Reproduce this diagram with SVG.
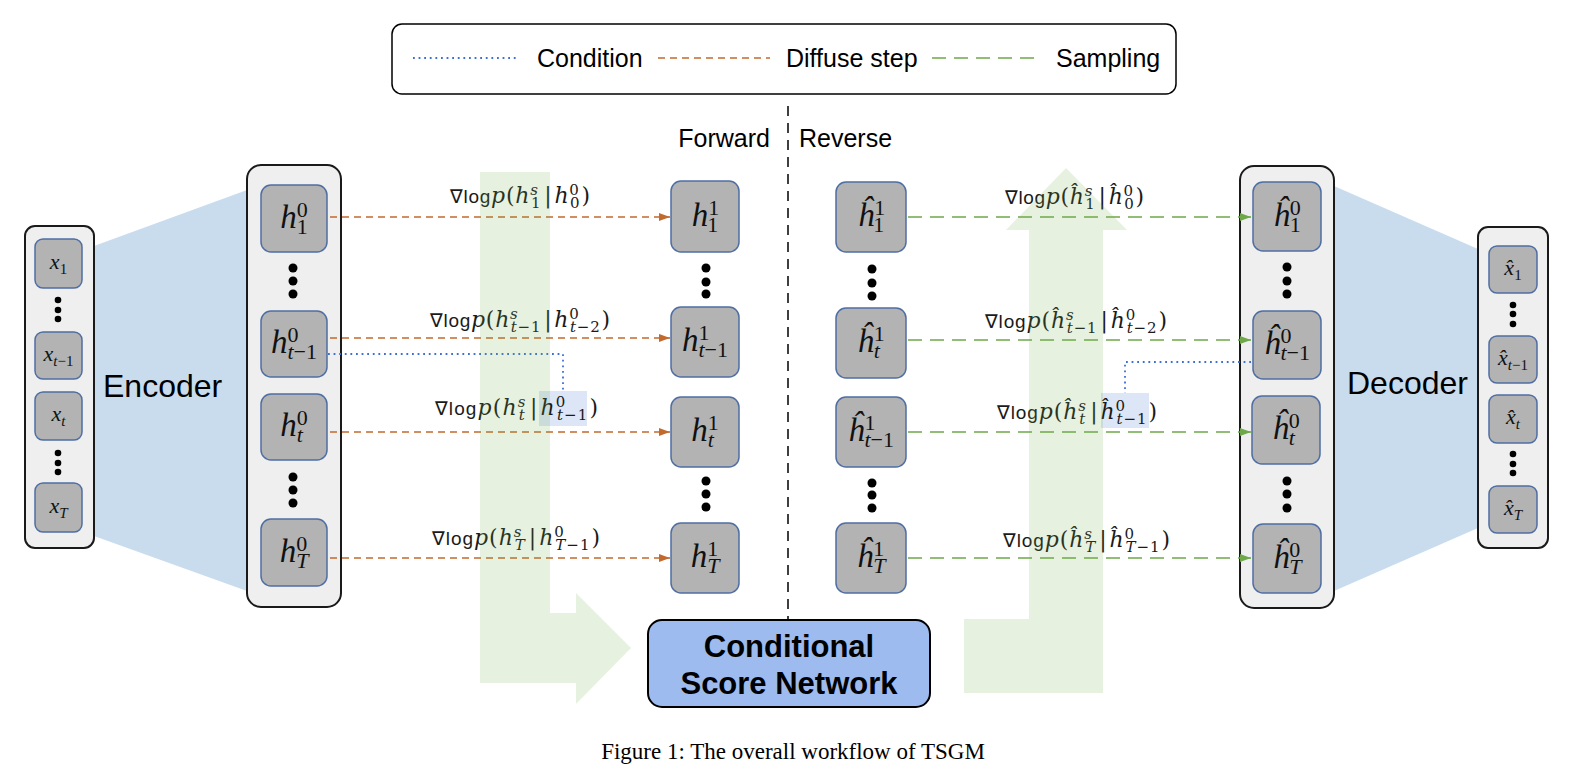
<svg xmlns="http://www.w3.org/2000/svg" width="1586" height="784" viewBox="0 0 1586 784">
<style>
.cont{fill:#efefef;stroke:#1a1a1a;stroke-width:2}
.nd{fill:#b3b3b3;stroke:#4f6ea3;stroke-width:1.5}
.trap{fill:#c9dcee}
.dot{fill:#000}
.nv{font-family:"Liberation Serif",serif;font-style:italic;font-size:33px;fill:#111}
.nv .s{font-size:22px}
.xv{font-family:"Liberation Serif",serif;font-style:italic;font-size:22px;fill:#111}
.xv .s{font-size:15px}
.u{font-style:normal}
.lb{font-family:"DejaVu Serif",serif;font-style:italic;font-size:22px;fill:#1a1a1a}
.lb .n{font-family:"Liberation Sans","DejaVu Sans",sans-serif;font-style:normal;font-size:19px}
.lb .s{font-size:15px}
.sans{font-family:"Liberation Sans",Arial,sans-serif;fill:#000}
.big{font-size:32px}
.mid{font-size:25px}
.or{stroke:#c26a2e;stroke-width:1.6;stroke-dasharray:7 5;fill:none}
.gr{stroke:#6fa84a;stroke-width:1.6;stroke-dasharray:14 8;fill:none}
.bl{stroke:#3b6fd6;stroke-width:1.8;stroke-dasharray:1.8 3.8;fill:none}
.band{fill:#70AD47;opacity:0.17}
.hl{fill:#d6e2f6;opacity:0.85}
</style>
<defs>
<marker id="ao" markerWidth="11" markerHeight="8" refX="11" refY="4" orient="auto" markerUnits="userSpaceOnUse"><path d="M0,0 L11,4 L0,8 z" fill="#c26a2e"/></marker>
<marker id="ag" markerWidth="11" markerHeight="8" refX="11" refY="4" orient="auto" markerUnits="userSpaceOnUse"><path d="M0,0 L11,4 L0,8 z" fill="#6fa84a"/></marker>
</defs>
<rect width="1586" height="784" fill="#fff"/>

<g id="legend">
<rect x="392" y="24" width="784" height="70" rx="10" fill="#fff" stroke="#000" stroke-width="1.5"/>
<line x1="413" y1="58" x2="519" y2="58" class="bl"/>
<text x="537" y="67" class="sans mid">Condition</text>
<line x1="658" y1="58" x2="770" y2="58" class="or"/>
<text x="786" y="67" class="sans mid">Diffuse step</text>
<line x1="932" y1="58" x2="1038" y2="58" class="gr"/>
<text x="1056" y="67" class="sans mid">Sampling</text>
</g>

<g id="divider">
<line x1="788" y1="106" x2="788" y2="620" stroke="#000" stroke-width="1.5" stroke-dasharray="10 7"/>
<text x="770" y="147" class="sans mid" text-anchor="end">Forward</text>
<text x="799" y="147" class="sans mid">Reverse</text>
</g>

<g id="encoder">
<polygon class="trap" points="94,246 247,190 247,591 94,536"/>
<text x="103" y="397" class="sans big">Encoder</text>
</g>
<g id="decoder">
<polygon class="trap" points="1334,186 1478,249 1478,528 1334,591"/>
<text x="1347" y="394" class="sans big">Decoder</text>
</g>

<g id="input-x">
<rect class="cont" x="25" y="226" width="69" height="322" rx="10"/>
<rect class="nd" x="35" y="239" width="47" height="49" rx="8"/>
<text class="xv" x="58.5" y="268.5" text-anchor="middle">x<tspan class="s u" dy="5">1</tspan></text>
<circle class="dot" cx="58" cy="300" r="3.3"/><circle class="dot" cx="58" cy="310" r="3.3"/><circle class="dot" cx="58" cy="319" r="3.3"/>
<rect class="nd" x="35" y="332" width="47" height="47" rx="8"/>
<text class="xv" x="58.5" y="360.5" text-anchor="middle">x<tspan class="s" dy="5">t<tspan class="u">−1</tspan></tspan></text>
<rect class="nd" x="35" y="392" width="47" height="48" rx="8"/>
<text class="xv" x="58.5" y="421" text-anchor="middle">x<tspan class="s" dy="5">t</tspan></text>
<circle class="dot" cx="58" cy="453" r="3.3"/><circle class="dot" cx="58" cy="463" r="3.3"/><circle class="dot" cx="58" cy="472" r="3.3"/>
<rect class="nd" x="35" y="483" width="47" height="49" rx="8"/>
<text class="xv" x="58.5" y="512.5" text-anchor="middle">x<tspan class="s" dy="5">T</tspan></text>
</g>

<g id="latent-h0">
<rect class="cont" x="247" y="165" width="94" height="442" rx="14"/>
<rect class="nd" x="261" y="185" width="66" height="67" rx="10"/>
<text class="nv" x="294" y="227.5" text-anchor="middle">h<tspan class="s u" dy="-11">0</tspan><tspan class="s u" dx="-11" dy="17">1</tspan></text>
<circle class="dot" cx="293" cy="268" r="4.5"/><circle class="dot" cx="293" cy="281" r="4.5"/><circle class="dot" cx="293" cy="294" r="4.5"/>
<rect class="nd" x="261" y="311" width="66" height="66" rx="10"/>
<text class="nv" x="294" y="353" text-anchor="middle">h<tspan class="s u" dy="-11">0</tspan><tspan class="s" dx="-11" dy="17">t<tspan class="u">−1</tspan></tspan></text>
<rect class="nd" x="261" y="394" width="66" height="66" rx="10"/>
<text class="nv" x="294" y="436" text-anchor="middle">h<tspan class="s u" dy="-11">0</tspan><tspan class="s" dx="-11" dy="17">t</tspan></text>
<circle class="dot" cx="293" cy="477" r="4.5"/><circle class="dot" cx="293" cy="490" r="4.5"/><circle class="dot" cx="293" cy="503" r="4.5"/>
<rect class="nd" x="261" y="519" width="66" height="67" rx="10"/>
<text class="nv" x="294" y="561.5" text-anchor="middle">h<tspan class="s u" dy="-11">0</tspan><tspan class="s" dx="-11" dy="17">T</tspan></text>
</g>

<g id="forward-h1">
<rect class="nd" x="671" y="181" width="68" height="71" rx="10"/>
<text class="nv" x="705" y="225.5" text-anchor="middle">h<tspan class="s u" dy="-11">1</tspan><tspan class="s u" dx="-11" dy="17">1</tspan></text>
<circle class="dot" cx="706" cy="268" r="4.5"/><circle class="dot" cx="706" cy="282" r="4.5"/><circle class="dot" cx="706" cy="294" r="4.5"/>
<rect class="nd" x="671" y="307" width="68" height="70" rx="10"/>
<text class="nv" x="705" y="351" text-anchor="middle">h<tspan class="s u" dy="-11">1</tspan><tspan class="s" dx="-11" dy="17">t<tspan class="u">−1</tspan></tspan></text>
<rect class="nd" x="671" y="397" width="68" height="70" rx="10"/>
<text class="nv" x="705" y="441" text-anchor="middle">h<tspan class="s u" dy="-11">1</tspan><tspan class="s" dx="-11" dy="17">t</tspan></text>
<circle class="dot" cx="706" cy="481" r="4.5"/><circle class="dot" cx="706" cy="494" r="4.5"/><circle class="dot" cx="706" cy="507" r="4.5"/>
<rect class="nd" x="671" y="523" width="68" height="70" rx="10"/>
<text class="nv" x="705" y="567" text-anchor="middle">h<tspan class="s u" dy="-11">1</tspan><tspan class="s" dx="-11" dy="17">T</tspan></text>
</g>

<g id="reverse-h1">
<rect class="nd" x="836" y="182" width="70" height="70" rx="10"/>
<text class="nv" x="871" y="226" text-anchor="middle">ĥ<tspan class="s u" dy="-11">1</tspan><tspan class="s u" dx="-11" dy="17">1</tspan></text>
<circle class="dot" cx="872" cy="269" r="4.5"/><circle class="dot" cx="872" cy="283" r="4.5"/><circle class="dot" cx="872" cy="296" r="4.5"/>
<rect class="nd" x="836" y="308" width="70" height="70" rx="10"/>
<text class="nv" x="871" y="352" text-anchor="middle">ĥ<tspan class="s u" dy="-11">1</tspan><tspan class="s" dx="-11" dy="17">t</tspan></text>
<rect class="nd" x="836" y="397" width="70" height="70" rx="10"/>
<text class="nv" x="871" y="441" text-anchor="middle">ĥ<tspan class="s u" dy="-11">1</tspan><tspan class="s" dx="-11" dy="17">t<tspan class="u">−1</tspan></tspan></text>
<circle class="dot" cx="872" cy="483" r="4.5"/><circle class="dot" cx="872" cy="495" r="4.5"/><circle class="dot" cx="872" cy="508" r="4.5"/>
<rect class="nd" x="836" y="523" width="70" height="70" rx="10"/>
<text class="nv" x="871" y="567" text-anchor="middle">ĥ<tspan class="s u" dy="-11">1</tspan><tspan class="s" dx="-11" dy="17">T</tspan></text>
</g>

<g id="decoded-h0">
<rect class="cont" x="1240" y="166" width="94" height="442" rx="14"/>
<rect class="nd" x="1253" y="182" width="68" height="69" rx="10"/>
<text class="nv" x="1287" y="225.5" text-anchor="middle">ĥ<tspan class="s u" dy="-11">0</tspan><tspan class="s u" dx="-11" dy="17">1</tspan></text>
<circle class="dot" cx="1287" cy="267" r="4.5"/><circle class="dot" cx="1287" cy="281" r="4.5"/><circle class="dot" cx="1287" cy="294" r="4.5"/>
<rect class="nd" x="1253" y="311" width="68" height="68" rx="10"/>
<text class="nv" x="1287" y="354" text-anchor="middle">ĥ<tspan class="s u" dy="-11">0</tspan><tspan class="s" dx="-11" dy="17">t<tspan class="u">−1</tspan></tspan></text>
<rect class="nd" x="1252" y="396" width="68" height="68" rx="10"/>
<text class="nv" x="1286" y="439" text-anchor="middle">ĥ<tspan class="s u" dy="-11">0</tspan><tspan class="s" dx="-11" dy="17">t</tspan></text>
<circle class="dot" cx="1287" cy="481" r="4.5"/><circle class="dot" cx="1287" cy="494" r="4.5"/><circle class="dot" cx="1287" cy="508" r="4.5"/>
<rect class="nd" x="1253" y="524" width="68" height="69" rx="10"/>
<text class="nv" x="1287" y="567.5" text-anchor="middle">ĥ<tspan class="s u" dy="-11">0</tspan><tspan class="s" dx="-11" dy="17">T</tspan></text>
</g>

<g id="output-x">
<rect class="cont" x="1478" y="227" width="70" height="321" rx="10"/>
<rect class="nd" x="1489" y="246" width="48" height="47" rx="8"/>
<text class="xv" x="1513" y="274.5" text-anchor="middle">x̂<tspan class="s u" dy="5">1</tspan></text>
<circle class="dot" cx="1513" cy="305" r="3.3"/><circle class="dot" cx="1513" cy="314" r="3.3"/><circle class="dot" cx="1513" cy="324" r="3.3"/>
<rect class="nd" x="1489" y="336" width="48" height="47" rx="8"/>
<text class="xv" x="1513" y="364.5" text-anchor="middle">x̂<tspan class="s" dy="5">t<tspan class="u">−1</tspan></tspan></text>
<rect class="nd" x="1489" y="395" width="48" height="48" rx="8"/>
<text class="xv" x="1513" y="424" text-anchor="middle">x̂<tspan class="s" dy="5">t</tspan></text>
<circle class="dot" cx="1513" cy="454" r="3.3"/><circle class="dot" cx="1513" cy="464" r="3.3"/><circle class="dot" cx="1513" cy="473" r="3.3"/>
<rect class="nd" x="1489" y="486" width="48" height="47" rx="8"/>
<text class="xv" x="1513" y="514.5" text-anchor="middle">x̂<tspan class="s" dy="5">T</tspan></text>
</g>

<g id="csn">
<rect x="648" y="620" width="282" height="87" rx="14" fill="#9dbbef" stroke="#000" stroke-width="2"/>
<text x="789" y="657" class="sans" font-size="31" font-weight="bold" text-anchor="middle">Conditional</text>
<text x="789" y="694" class="sans" font-size="31" font-weight="bold" text-anchor="middle">Score Network</text>
</g>

<g id="connectors">
<line class="or" x1="330" y1="217" x2="670" y2="217" marker-end="url(#ao)"/>
<line class="or" x1="330" y1="338" x2="670" y2="338" marker-end="url(#ao)"/>
<line class="or" x1="330" y1="432" x2="670" y2="432" marker-end="url(#ao)"/>
<line class="or" x1="330" y1="558" x2="670" y2="558" marker-end="url(#ao)"/>
<line class="gr" x1="908" y1="217" x2="1251" y2="217" marker-end="url(#ag)"/>
<line class="gr" x1="908" y1="340" x2="1251" y2="340" marker-end="url(#ag)"/>
<line class="gr" x1="908" y1="432" x2="1251" y2="432" marker-end="url(#ag)"/>
<line class="gr" x1="908" y1="558" x2="1251" y2="558" marker-end="url(#ag)"/>
<path class="bl" d="M328,354 H563 V391"/>
<path class="bl" d="M1251,362 H1125 V393"/>
<rect class="hl" x="539" y="391" width="48" height="35"/>
<rect class="hl" x="1101" y="393" width="48" height="35"/>
<text class="lb" x="450" y="203" textLength="140" lengthAdjust="spacing"><tspan class="n">∇log</tspan>p<tspan class="u">(</tspan>h<tspan class="s" dy="-8">s</tspan><tspan class="s u" dx="-7.7" dy="13">1</tspan><tspan class="u" dx="3" dy="-5">|</tspan><tspan dx="2">h</tspan><tspan class="s u" dy="-8">0</tspan><tspan class="s u" dx="-9.5" dy="13">0</tspan><tspan class="u" dx="1" dy="-5">)</tspan></text>
<text class="lb" x="430" y="327" textLength="180" lengthAdjust="spacing"><tspan class="n">∇log</tspan>p<tspan class="u">(</tspan>h<tspan class="s" dy="-8">s</tspan><tspan class="s" dx="-7.7" dy="13">t<tspan class="u">−1</tspan></tspan><tspan class="u" dx="3" dy="-5">|</tspan><tspan dx="2">h</tspan><tspan class="s u" dy="-8">0</tspan><tspan class="s" dx="-9.5" dy="13">t<tspan class="u">−2</tspan></tspan><tspan class="u" dx="1" dy="-5">)</tspan></text>
<text class="lb" x="435" y="415" textLength="163" lengthAdjust="spacing"><tspan class="n">∇log</tspan>p<tspan class="u">(</tspan>h<tspan class="s" dy="-8">s</tspan><tspan class="s" dx="-7.7" dy="13">t</tspan><tspan class="u" dx="4" dy="-5">|</tspan><tspan dx="2">h</tspan><tspan class="s u" dy="-8">0</tspan><tspan class="s" dx="-9.5" dy="13">t<tspan class="u">−1</tspan></tspan><tspan class="u" dx="1" dy="-5">)</tspan></text>
<text class="lb" x="432" y="545" textLength="168" lengthAdjust="spacing"><tspan class="n">∇log</tspan>p<tspan class="u">(</tspan>h<tspan class="s" dy="-8">s</tspan><tspan class="s" dx="-7.7" dy="13">T</tspan><tspan class="u" dx="3" dy="-5">|</tspan><tspan dx="2">h</tspan><tspan class="s u" dy="-8">0</tspan><tspan class="s" dx="-9.5" dy="13">T<tspan class="u">−1</tspan></tspan><tspan class="u" dx="1" dy="-5">)</tspan></text>
<text class="lb" x="1005" y="204" textLength="139" lengthAdjust="spacing"><tspan class="n">∇log</tspan>p<tspan class="u">(</tspan>ĥ<tspan class="s" dy="-8">s</tspan><tspan class="s u" dx="-7.7" dy="13">1</tspan><tspan class="u" dx="3" dy="-5">|</tspan><tspan dx="2">ĥ</tspan><tspan class="s u" dy="-8">0</tspan><tspan class="s u" dx="-9.5" dy="13">0</tspan><tspan class="u" dx="1" dy="-5">)</tspan></text>
<text class="lb" x="985" y="328" textLength="182" lengthAdjust="spacing"><tspan class="n">∇log</tspan>p<tspan class="u">(</tspan>ĥ<tspan class="s" dy="-8">s</tspan><tspan class="s" dx="-7.7" dy="13">t<tspan class="u">−1</tspan></tspan><tspan class="u" dx="3" dy="-5">|</tspan><tspan dx="2">ĥ</tspan><tspan class="s u" dy="-8">0</tspan><tspan class="s" dx="-9.5" dy="13">t<tspan class="u">−2</tspan></tspan><tspan class="u" dx="1" dy="-5">)</tspan></text>
<text class="lb" x="997" y="419" textLength="160" lengthAdjust="spacing"><tspan class="n">∇log</tspan>p<tspan class="u">(</tspan>ĥ<tspan class="s" dy="-8">s</tspan><tspan class="s" dx="-7.7" dy="13">t</tspan><tspan class="u" dx="4" dy="-5">|</tspan><tspan dx="2">ĥ</tspan><tspan class="s u" dy="-8">0</tspan><tspan class="s" dx="-9.5" dy="13">t<tspan class="u">−1</tspan></tspan><tspan class="u" dx="1" dy="-5">)</tspan></text>
<text class="lb" x="1003" y="547" textLength="167" lengthAdjust="spacing"><tspan class="n">∇log</tspan>p<tspan class="u">(</tspan>ĥ<tspan class="s" dy="-8">s</tspan><tspan class="s" dx="-7.7" dy="13">T</tspan><tspan class="u" dx="3" dy="-5">|</tspan><tspan dx="2">ĥ</tspan><tspan class="s u" dy="-8">0</tspan><tspan class="s" dx="-9.5" dy="13">T<tspan class="u">−1</tspan></tspan><tspan class="u" dx="1" dy="-5">)</tspan></text>
</g>

<g id="flow-arrows">
<polygon class="band" points="480,172 550,172 550,613 576,613 576,593 631,648 576,704 576,683 480,683"/>
<polygon class="band" points="964,619 1029,619 1029,230 1006,230 1066,168 1127,230 1103,230 1103,693 964,693"/>
</g>

<text x="793" y="759" font-family="Liberation Serif,serif" font-size="23" text-anchor="middle" fill="#000">Figure 1: The overall workflow of TSGM</text>
</svg>
